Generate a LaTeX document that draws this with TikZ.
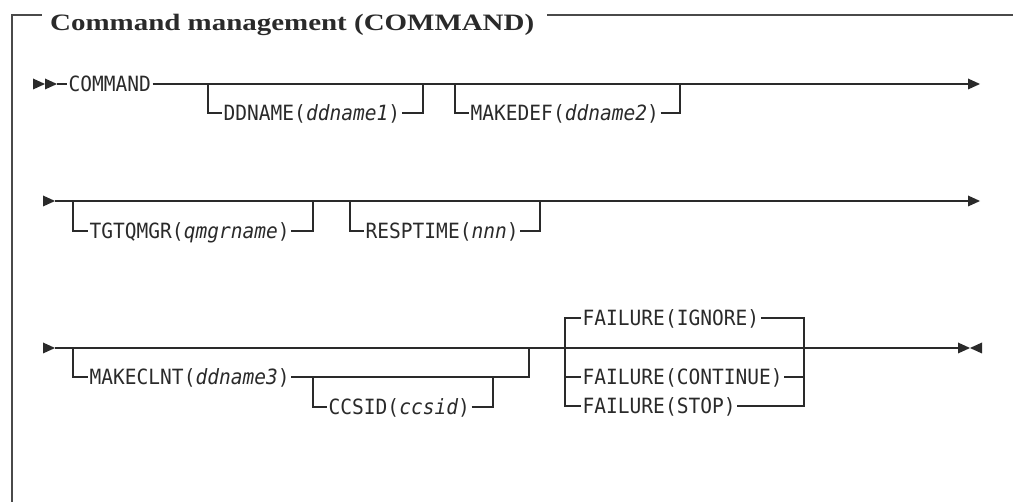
\documentclass[tikz,border=0pt]{standalone}
\usepackage{fontspec}
\usepackage{graphicx}
\newfontfamily\synfont[FakeStretch=0.93]{DejaVu Sans Mono}
\newfontfamily\headfont{Liberation Serif}
\definecolor{ink}{HTML}{2A2A2A}
\begin{document}
\begin{tikzpicture}[x=1pt,y=-1pt,
  rail/.style={draw=ink, line width=1.3pt},
  boxline/.style={draw=ink!85, line width=1.2pt},
  kw/.style={anchor=west, inner xsep=1.5pt, inner ysep=0pt,
    text height=15pt, text depth=0pt, text=ink,
    font=\synfont\fontsize{21}{21}\selectfont},
  heading/.style={anchor=base west, inner sep=0pt, text=ink,
    font=\headfont\fontsize{23.5}{26}\selectfont\bfseries}
]
\useasboundingbox (0,0) rectangle (1013,502);

% ---- surrounding frame with its heading ----
\node[heading] (title) at (50,31) {\resizebox{484pt}{\height}{Command management (COMMAND)}};
\coordinate (fbl) at (12,502);
\coordinate (ftl) at (12,15);
\coordinate (ftr) at (1013,15);
\coordinate (fgap1) at (42,15);
\coordinate (fgap2) at (547,15);
\draw[boxline] (fbl) -- (ftl) -- (fgap1);
\draw[boxline] (fgap2) -- (ftr);

% ---- first line ----
\coordinate (s1a) at (33,84);
\coordinate (s1b) at (45,84);
\coordinate (in1) at (57,84);
\fill[ink] (s1a) ++(0,-5.5) -- ++(12,5.5) -- ++(-12,5.5) -- cycle;
\fill[ink] (s1b) ++(0,-5.5) -- ++(12,5.5) -- ++(-12,5.5) -- cycle;
\node[kw] (cmd) at (67,84) {COMMAND};
\coordinate (j1a) at (208,84);
\coordinate (j1b) at (423,84);
\coordinate (j1c) at (455,84);
\coordinate (j1d) at (680,84);
\coordinate (e1) at (968,84);
\node[kw] (dd) at (222,113) {DDNAME(\textit{ddname1})};
\node[kw] (mk) at (469,113) {MAKEDEF(\textit{ddname2})};
\draw[rail] (in1) -- (cmd.west);
\draw[rail] (cmd.east) -- (e1);
\draw[rail] (j1a) |- (dd.west);
\draw[rail] (dd.east) -| (j1b);
\draw[rail] (j1c) |- (mk.west);
\draw[rail] (mk.east) -| (j1d);
\fill[ink] (e1) ++(0,-5.5) -- ++(12,5.5) -- ++(-12,5.5) -- cycle;

% ---- second line ----
\coordinate (s2) at (43,201);
\coordinate (in2) at (55,201);
\fill[ink] (s2) ++(0,-5.5) -- ++(12,5.5) -- ++(-12,5.5) -- cycle;
\coordinate (j2a) at (73,201);
\coordinate (j2b) at (313,201);
\coordinate (j2c) at (350,201);
\coordinate (j2d) at (540,201);
\coordinate (e2) at (968,201);
\node[kw] (tg) at (88,231) {TGTQMGR(\textit{qmgrname})};
\node[kw] (rt) at (364,231) {RESPTIME(\textit{nnn})};
\draw[rail] (in2) -- (e2);
\draw[rail] (j2a) |- (tg.west);
\draw[rail] (tg.east) -| (j2b);
\draw[rail] (j2c) |- (rt.west);
\draw[rail] (rt.east) -| (j2d);
\fill[ink] (e2) ++(0,-5.5) -- ++(12,5.5) -- ++(-12,5.5) -- cycle;

% ---- third line ----
\coordinate (s3) at (43,348);
\coordinate (in3) at (55,348);
\fill[ink] (s3) ++(0,-5.5) -- ++(12,5.5) -- ++(-12,5.5) -- cycle;
\coordinate (j3a) at (73,348);
\coordinate (j3b) at (529,348);
\coordinate (j3c) at (313,377);
\coordinate (j3d) at (493,377);
\node[kw] (mc) at (88,377) {MAKECLNT(\textit{ddname3})};
\node[kw] (cc) at (327,407) {CCSID(\textit{ccsid})};
\draw[rail] (j3a) |- (mc.west);
\draw[rail] (mc.east) -| (j3b);
\draw[rail] (j3c) |- (cc.west);
\draw[rail] (cc.east) -| (j3d);

% failure choice, default above the line
\coordinate (fa) at (565,348);
\coordinate (fb) at (804,348);
\node[kw] (fi) at (581,318) {FAILURE(IGNORE)};
\node[kw] (fc) at (581,377) {FAILURE(CONTINUE)};
\node[kw] (fs) at (581,406) {FAILURE(STOP)};
\draw[rail] (fi.west) -| (fa) |- (fs.west);
\draw[rail] (fa) |- (fc.west);
\draw[rail] (fi.east) -| (fb) |- (fs.east);
\draw[rail] (fc.east) -| (fb);

\coordinate (e3) at (958,348);
\coordinate (e3r) at (982,348);
\draw[rail] (in3) -- (e3);
\draw[ink, line width=2.4pt] (fb) ++(6,0) -- ++(23,0);
\fill[ink] (e3) ++(0,-5.5) -- ++(12,5.5) -- ++(-12,5.5) -- cycle;
\fill[ink] (e3r) ++(0,-5.5) -- ++(-12,5.5) -- ++(12,5.5) -- cycle;
\end{tikzpicture}
\end{document}
